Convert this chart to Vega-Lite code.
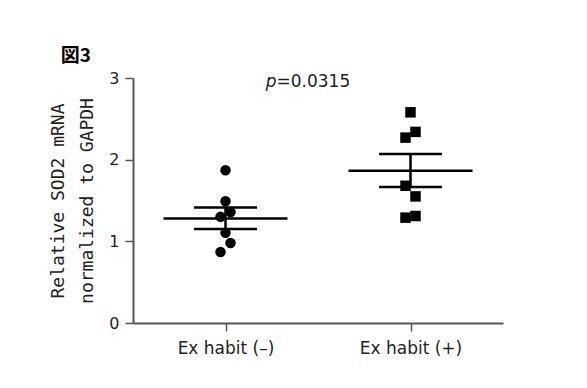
{
  "$schema": "https://vega.github.io/schema/vega-lite/v6.json",
  "width": 370,
  "height": 245,
  "autosize": "none",
  "padding": {"left": 133, "top": 78, "right": 84, "bottom": 65},
  "background": "white",
  "config": {"view": {"stroke": null}},
  "title": {"text": "図3", "anchor": "start", "frame": "bounds", "font": "Noto Sans CJK JP", "fontWeight": "bold", "fontSize": 19, "color": "black", "offset": 4, "dx": 11},
  "datasets": {
    "points": [
      {"group": "Ex habit (–)", "value": 1.87, "col": 0},
      {"group": "Ex habit (–)", "value": 1.49, "col": 0},
      {"group": "Ex habit (–)", "value": 1.30, "col": -1},
      {"group": "Ex habit (–)", "value": 1.36, "col": 1},
      {"group": "Ex habit (–)", "value": 1.105, "col": 0},
      {"group": "Ex habit (–)", "value": 0.98, "col": 1},
      {"group": "Ex habit (–)", "value": 0.87, "col": -1},
      {"group": "Ex habit (+)", "value": 2.58, "col": 0},
      {"group": "Ex habit (+)", "value": 2.34, "col": 1},
      {"group": "Ex habit (+)", "value": 2.27, "col": -1},
      {"group": "Ex habit (+)", "value": 1.68, "col": -1},
      {"group": "Ex habit (+)", "value": 1.55, "col": 1},
      {"group": "Ex habit (+)", "value": 1.29, "col": -1},
      {"group": "Ex habit (+)", "value": 1.31, "col": 1}
    ],
    "summary": [
      {"group": "Ex habit (–)", "mean": 1.28, "upper": 1.415, "lower": 1.15},
      {"group": "Ex habit (+)", "mean": 1.865, "upper": 2.07, "lower": 1.665}
    ],
    "ptext": [{"p": "p", "rest": "=0.0315", "group": "Ex habit (–)", "y": 2.95}]
  },
  "encoding": {
    "x": {
      "field": "group", "type": "nominal",
      "scale": {"type": "point", "padding": 0.5, "domain": ["Ex habit (–)", "Ex habit (+)"]},
      "axis": {"title": null, "labelAngle": 0, "labelFont": "DejaVu Sans", "labelFontSize": 17, "labelColor": "#222", "labelPadding": 9, "tickSize": 8, "tickColor": "#555", "tickWidth": 1.5, "domainColor": "#555", "domainWidth": 2}
    }
  },
  "layer": [
    {
      "data": {"name": "summary"},
      "mark": {"type": "rule", "color": "black", "strokeWidth": 2.5},
      "encoding": {
        "y": {"field": "lower", "type": "quantitative", "scale": {"domain": [0, 3]},
          "axis": {"values": [0, 1, 2, 3], "format": "d", "grid": false, "title": ["Relative SOD2 mRNA", "normalized to GAPDH"], "titleFont": "DejaVu Sans Mono", "titleFontSize": 18, "titleFontWeight": "normal", "titleColor": "#222", "titleLineHeight": 29, "titlePadding": 12, "labelFont": "DejaVu Sans", "labelFontSize": 16, "labelColor": "#222", "labelPadding": 6, "tickSize": 8, "tickColor": "#555", "tickWidth": 1.5, "domainColor": "#555", "domainWidth": 2}},
        "y2": {"field": "upper"}
      }
    },
    {
      "data": {"name": "summary"},
      "mark": {"type": "tick", "color": "black", "opacity": 1, "size": 124, "thickness": 2.5},
      "encoding": {"y": {"field": "mean", "type": "quantitative"}}
    },
    {
      "data": {"name": "summary"},
      "mark": {"type": "tick", "color": "black", "opacity": 1, "size": 63, "thickness": 2.5},
      "encoding": {"y": {"field": "upper", "type": "quantitative"}}
    },
    {
      "data": {"name": "summary"},
      "mark": {"type": "tick", "color": "black", "opacity": 1, "size": 63, "thickness": 2.5},
      "encoding": {"y": {"field": "lower", "type": "quantitative"}}
    },
    {
      "data": {"name": "points"},
      "mark": {"type": "point", "filled": true, "color": "black", "opacity": 1, "size": 110},
      "encoding": {
        "y": {"field": "value", "type": "quantitative"},
        "xOffset": {"field": "col", "type": "ordinal", "scale": {"type": "point", "domain": [-1, 0, 1], "range": [-7.5, 7.5]}},
        "shape": {"field": "group", "type": "nominal", "scale": {"domain": ["Ex habit (–)", "Ex habit (+)"], "range": ["circle", "square"]}, "legend": null}
      }
    },
    {
      "data": {"name": "ptext"},
      "mark": {"type": "text", "align": "right", "baseline": "middle", "font": "DejaVu Sans", "fontSize": 17, "fontStyle": "italic", "color": "#222", "dx": 51},
      "encoding": {"y": {"field": "y", "type": "quantitative"}, "text": {"field": "p"}}
    },
    {
      "data": {"name": "ptext"},
      "mark": {"type": "text", "align": "left", "baseline": "middle", "font": "DejaVu Sans", "fontSize": 17, "color": "#222", "dx": 51},
      "encoding": {"y": {"field": "y", "type": "quantitative"}, "text": {"field": "rest"}}
    }
  ]
}
